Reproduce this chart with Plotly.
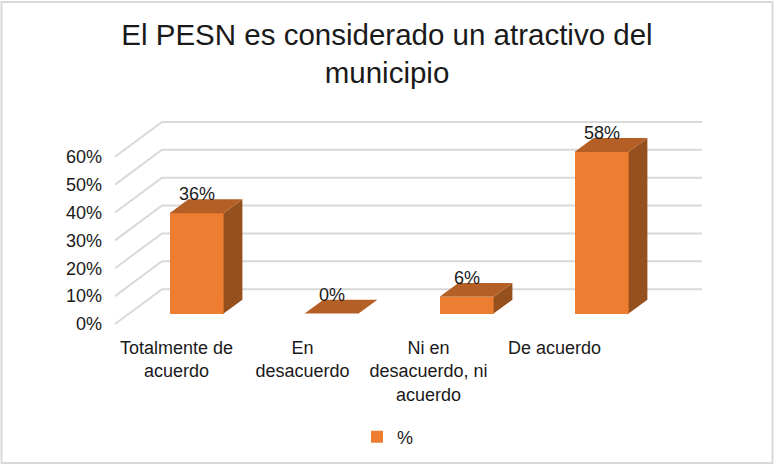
import plotly.graph_objects as go

# ---- data ----
categories = ["Totalmente de<br>acuerdo", "En<br>desacuerdo", "Ni en<br>desacuerdo, ni<br>acuerdo", "De acuerdo"]
values = [36, 0, 6, 58]
value_labels = ["36%", "0%", "6%", "58%"]
y_ticks = [0, 10, 20, 30, 40, 50, 60]
y_tick_labels = ["0%", "10%", "20%", "30%", "40%", "50%", "60%"]
series_name = "%"
title_text = "El PESN es considerado un atractivo del<br>municipio"

# ---- layout geometry (pixels) ----
W, H = 774, 466
L, R, T, B = 103, 720, 100, 336
px_per_cat = 135.0
px_per_pct = 2.8
front_x0 = 182.5      # pixel of category 0 on the front plane
front_y0 = 325.0      # pixel of 0% on the front plane
label_x0, label_step = 176.5, 126.0

# oblique depth (full floor depth) in data units
Dx = 47 / px_per_cat
Dy = 35 / px_per_pct
bar_w = 0.4
bar_front = 0.3       # fraction of depth where bar front sits
bar_depth = 0.4       # fraction of depth occupied by bar

xr = [(L - front_x0) / px_per_cat, (R - front_x0) / px_per_cat]
yr = [(front_y0 - B) / px_per_pct, (front_y0 - T) / px_per_pct]
ox, oy = bar_front * Dx, bar_front * Dy
x3r = [xr[0] - ox, xr[1] - ox]
y3r = [yr[0] - oy, yr[1] - oy]
x2r = [(L - label_x0) / label_step, (R - label_x0) / label_step]

FRONT = "#ED7D31"
TOP = "#B45F25"
SIDE = "#96501D"
GRID = "#D9D9D9"
TXT = "#1a1a1a"
FONT = "Liberation Sans, Arial, sans-serif"

fig = go.Figure()

# back-wall gridlines + floor diagonals
gx, gy = [], []
n = len(values)
for t in y_ticks:
    gx += [-0.5, -0.5 + Dx, n - 0.5 + Dx, None]
    gy += [t, t + Dy, t + Dy, None]
fig.add_trace(go.Scatter(x=gx, y=gy, mode="lines", line=dict(color=GRID, width=2),
                         hoverinfo="skip", showlegend=False, xaxis="x", yaxis="y"))

# front faces as bars
xs = list(range(n))
fig.add_trace(go.Bar(x=xs, y=values, width=bar_w, name=series_name,
                     marker=dict(color=FRONT, line=dict(width=0)),
                     xaxis="x3", yaxis="y3", showlegend=True))

# top and side faces
ddx, ddy = bar_depth * Dx, bar_depth * Dy
for i, v in enumerate(values):
    xl, xrr = i - bar_w / 2, i + bar_w / 2
    if v > 0:
        fig.add_trace(go.Scatter(
            x=[xrr, xrr, xrr + ddx, xrr + ddx, xrr],
            y=[0, v, v + ddy, ddy, 0],
            fill="toself", fillcolor=SIDE, mode="lines", line=dict(width=0, color=SIDE),
            hoverinfo="skip", showlegend=False, xaxis="x3", yaxis="y3"))
    fig.add_trace(go.Scatter(
        x=[xl, xrr, xrr + ddx, xl + ddx, xl],
        y=[v, v, v + ddy, v + ddy, v],
        fill="toself", fillcolor=TOP, mode="lines", line=dict(width=0, color=TOP),
        hoverinfo="skip", showlegend=False, xaxis="x3", yaxis="y3"))

# invisible trace to carry the category tick axis
fig.add_trace(go.Scatter(x=xs, y=values, mode="markers", marker=dict(opacity=0),
                         hoverinfo="skip", showlegend=False, xaxis="x2", yaxis="y"))

# data labels
annotations = []
for i, (v, lab) in enumerate(zip(values, value_labels)):
    annotations.append(dict(x=i, y=v, xref="x3", yref="y3", text=lab, showarrow=False,
                            yshift=19, font=dict(size=18, color=TXT, family=FONT)))

fig.update_layout(
    width=W, height=H,
    margin=dict(l=L, r=W - R, t=T, b=H - B, pad=0),
    paper_bgcolor="white", plot_bgcolor="rgba(0,0,0,0)",
    font=dict(family=FONT, color=TXT, size=18),
    title=dict(text=title_text, x=0.5, xref="container", xanchor="center",
               y=1 - 45 / H, yref="container", yanchor="top",
               font=dict(size=29.5, color=TXT, family=FONT)),
    xaxis=dict(range=xr, visible=False, fixedrange=True),
    yaxis=dict(range=yr, tickvals=y_ticks, ticktext=y_tick_labels, showgrid=False,
               zeroline=False, showline=False, ticks="", fixedrange=True,
               tickfont=dict(size=18, color=TXT)),
    xaxis2=dict(range=x2r, overlaying="x", side="bottom", anchor="y",
                tickvals=xs, ticktext=categories, showgrid=False, zeroline=False,
                showline=False, ticks="", tickfont=dict(size=18, color=TXT)),
    xaxis3=dict(range=x3r, overlaying="x", visible=False),
    yaxis3=dict(range=y3r, overlaying="y", visible=False),
    bargap=0,
    showlegend=True,
    legend=dict(orientation="h", x=(388 - L) / (R - L), xanchor="center",
                y=(B - 437) / (B - T), yanchor="middle",
                font=dict(size=18, color=TXT), itemwidth=30),
    annotations=annotations,
    shapes=[dict(type="rect", xref="paper", yref="paper",
                 x0=(1.5 - L) / (R - L), x1=(772.5 - L) / (R - L),
                 y0=(B - 464.5) / (B - T), y1=(B - 1.5) / (B - T),
                 line=dict(color=GRID, width=2), layer="below")],
)

fig.write_html("out.html", config={"displayModeBar": False},
               post_script="document.body.style.margin='0';")
